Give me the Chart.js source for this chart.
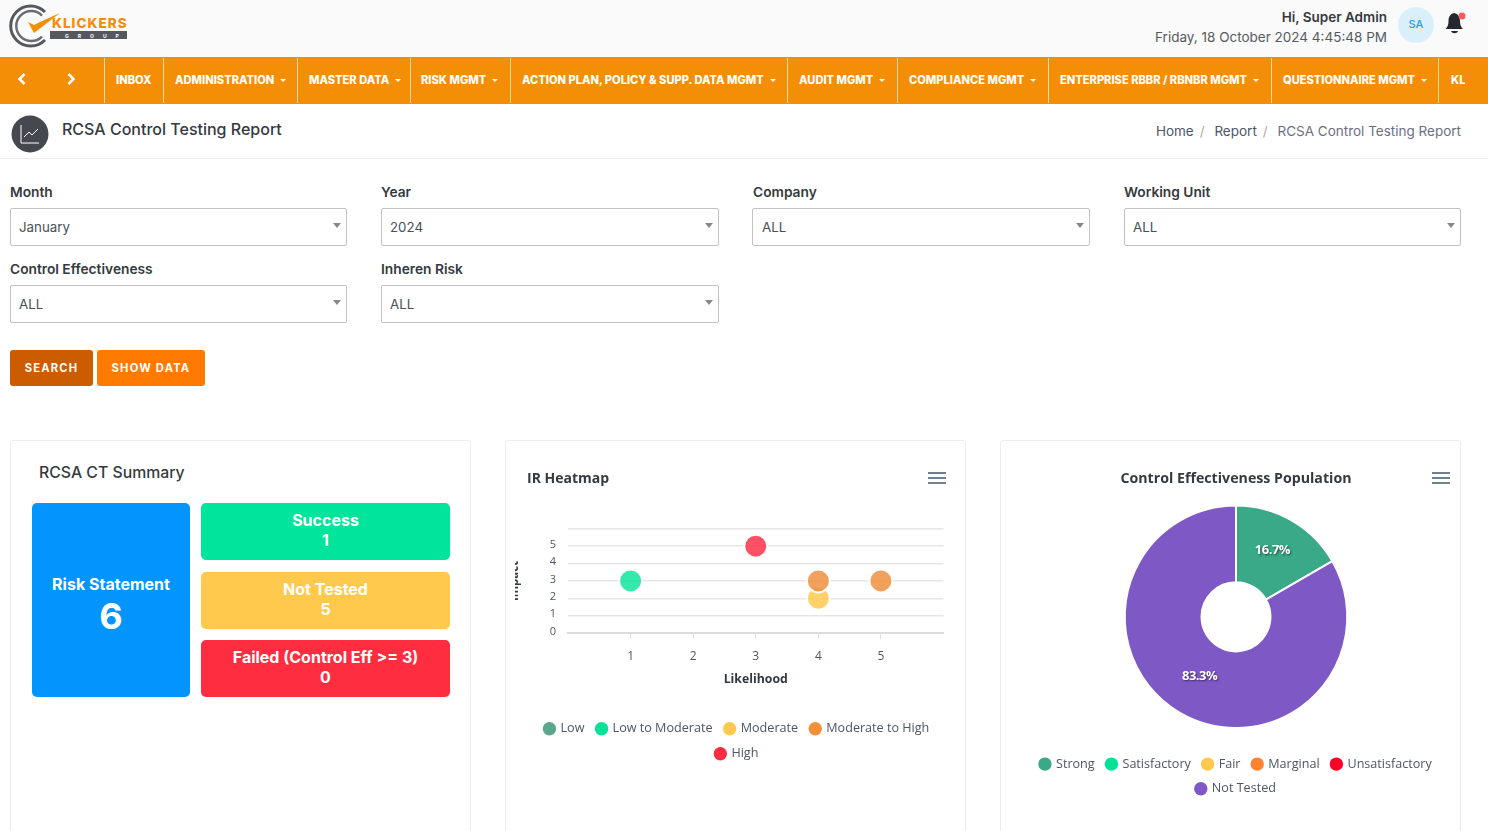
<!DOCTYPE html>
<html>
<head>
<meta charset="utf-8">
<title>RCSA Control Testing Report</title>
<script src="https://cdn.jsdelivr.net/npm/chart.js@4"></script>
<style>
html, body { margin: 0; padding: 0; width: 1488px; height: 831px; overflow: hidden; background: #fff; font-family: Inter, sans-serif; color: #343a40; }
.abs { position: absolute; white-space: nowrap; }
.topbar { position: absolute; left: 0; top: 0; width: 1488px; height: 57px; background: #fafafa; }
.nav { position: absolute; left: 0; top: 57px; width: 1488px; height: 47px; background: #f48e07; overflow: hidden; }
.nav .sep { position: absolute; top: 1px; width: 1px; height: 45px; background: #fbd9a6; }
.nav .item { position: absolute; top: 16px; font-size: 11.1px; line-height: 14px; font-weight: 800; color: #fff; white-space: nowrap; }
.nav .caret { display: inline-block; width: 0; height: 0; margin-left: 6px; vertical-align: 2px; border-left: 3px solid transparent; border-right: 3px solid transparent; border-top: 3px solid #fff; }
.crumbbar { position: absolute; left: 0; top: 104px; width: 1488px; height: 54px; border-bottom: 1px solid #ebedf2; }
.field-label { font-size: 13.75px; font-weight: 600; line-height: 18px; color: #343a40; }
.select { position: absolute; width: 335px; height: 36px; border: 1px solid #bfc3c7; border-radius: 2px; font-size: 13.3px; line-height: 36px; color: #495057; text-indent: 8px; }
.select::after { content: ''; position: absolute; right: 5px; top: 14px; border-left: 4px solid transparent; border-right: 4px solid transparent; border-top: 5px solid #888; }
.btn { position: absolute; top: 350px; height: 36px; line-height: 36px; border-radius: 3px; color: #fff; font-size: 11.2px; font-weight: 700; letter-spacing: 1.2px; text-align: center; }
.card { position: absolute; top: 440px; width: 459px; height: 420px; border: 1px solid #ebedf2; border-radius: 3px; background: #fff; }
.tile { position: absolute; border-radius: 5px; color: #fff; font-weight: 700; font-size: 16px; line-height: 20px; text-align: center; }
.menu { position: absolute; width: 18px; height: 12px; border-top: 2px solid #6e8192; border-bottom: 2px solid #6e8192; box-sizing: border-box; }
.menu::after { content: ''; position: absolute; left: 0; right: 0; top: 3px; height: 2px; background: #6e8192; }
canvas { position: absolute; display: block; }
</style>
</head>
<body>

<div class="topbar">
  <svg class="abs" style="left:9px;top:3px" width="122" height="48" viewBox="0 0 122 48">
    <path d="M36 9 A20 20 0 1 0 36 37" fill="none" stroke="#55585e" stroke-width="3"/>
    <path d="M33 12.500 A15 15 0 1 0 33 33.500" fill="none" stroke="#6a6d72" stroke-width="2.500"/>
    <path d="M19 19 L25 30 L51 10 L31 19 L25 22 Z" fill="#f48e07"/>
    <rect x="41" y="28" width="77" height="8" fill="#55585e"/>
    <text x="43" y="24.500" font-family="Inter" font-size="13.500" font-weight="800" letter-spacing="1" fill="#f48e07">KLICKERS</text>
    <text x="56" y="34.500" font-family="Inter" font-size="5" font-weight="700" letter-spacing="9" fill="#fff">GROUP</text>
  </svg>
  <div class="abs" style="right:101px;top:8px;font-size:13.5px;font-weight:600;line-height:18px;color:#343a40">Hi, Super Admin</div>
  <div class="abs" style="right:101px;top:28px;font-size:13.5px;line-height:18px;color:#565a5f">Friday, 18 October 2024 4:45:48 PM</div>
  <div class="abs" style="left:1398px;top:7px;width:36px;height:36px;border-radius:50%;background:#d9f0fb;color:#1e9ff2;font-size:11px;font-weight:500;line-height:34px;text-align:center">SA</div>
  <svg class="abs" style="left:1444px;top:11px" width="22" height="24" viewBox="0 0 22 24">
    <path d="M10 2 C6 3 4.500 6 4.500 10 C4.500 14 3.500 16 1.500 18 L19 18 C17 16 16 14 16 10 C16 6 14.500 3 10 2 Z" fill="#24282e"/>
    <path d="M7 20 L14 20 C13 23 8 23 7 20 Z" fill="#24282e"/>
    <circle cx="18" cy="5" r="3.500" fill="#ff5b5c"/>
  </svg>
</div>

<div class="nav">
  <svg class="abs" style="left:17px;top:15px" width="10" height="14" viewBox="0 0 10 14"><path d="M7.500 2 L2.500 7 L7.500 12" fill="none" stroke="#fff" stroke-width="2.500"/></svg>
  <svg class="abs" style="left:66px;top:15px" width="10" height="14" viewBox="0 0 10 14"><path d="M2.500 2 L7.500 7 L2.500 12" fill="none" stroke="#fff" stroke-width="2.500"/></svg>
  <div class="sep" style="left:104px"></div><div class="item" style="left:116px">INBOX</div>
  <div class="sep" style="left:163px"></div><div class="item" style="left:175px">ADMINISTRATION<span class="caret"></span></div>
  <div class="sep" style="left:297px"></div><div class="item" style="left:309px">MASTER DATA<span class="caret"></span></div>
  <div class="sep" style="left:410px"></div><div class="item" style="left:421px">RISK MGMT<span class="caret"></span></div>
  <div class="sep" style="left:510px"></div><div class="item" style="left:522px">ACTION PLAN, POLICY &amp; SUPP. DATA MGMT<span class="caret"></span></div>
  <div class="sep" style="left:787px"></div><div class="item" style="left:799px">AUDIT MGMT<span class="caret"></span></div>
  <div class="sep" style="left:897px"></div><div class="item" style="left:909px">COMPLIANCE MGMT<span class="caret"></span></div>
  <div class="sep" style="left:1048px"></div><div class="item" style="left:1060px">ENTERPRISE RBBR / RBNBR MGMT<span class="caret"></span></div>
  <div class="sep" style="left:1271px"></div><div class="item" style="left:1283px">QUESTIONNAIRE MGMT<span class="caret"></span></div>
  <div class="sep" style="left:1438px"></div><div class="item" style="left:1451px;width:14px;overflow:hidden">KLICKERS</div>
</div>

<div class="crumbbar">
  <svg class="abs" style="left:11px;top:11px" width="38" height="38" viewBox="0 0 38 38">
    <circle cx="19" cy="19" r="18.500" fill="#45484f"/>
    <path d="M10 10 L10 28 L28 28 M13 22 L18 17 L21 20 L27 14" fill="none" stroke="#fff" stroke-width="1"/>
  </svg>
  <div class="abs" style="left:62px;top:15px;font-size:16px;font-weight:500;line-height:20px;color:#343a40">RCSA Control Testing Report</div>
  <div class="abs" style="right:27px;top:18px;font-size:13.5px;line-height:18px;color:#6b6f82"><span style="color:#4e5566">Home</span><span style="color:#aaa;margin:0 6px">/</span> <span style="color:#4e5566">Report</span><span style="color:#aaa;margin:0 6px">/</span> RCSA Control Testing Report</div>
</div>

<div class="abs field-label" style="left:10px;top:183px">Month</div>
<div class="select" style="left:10px;top:208px">January</div>
<div class="abs field-label" style="left:381px;top:183px">Year</div>
<div class="select" style="left:381px;top:208px;width:336px">2024</div>
<div class="abs field-label" style="left:753px;top:183px">Company</div>
<div class="select" style="left:752px;top:208px;width:336px;text-indent:9px">ALL</div>
<div class="abs field-label" style="left:1124px;top:183px">Working Unit</div>
<div class="select" style="left:1124px;top:208px">ALL</div>
<div class="abs field-label" style="left:10px;top:260px">Control Effectiveness</div>
<div class="select" style="left:10px;top:285px">ALL</div>
<div class="abs field-label" style="left:381px;top:260px">Inheren Risk</div>
<div class="select" style="left:381px;top:285px;width:336px">ALL</div>
<div class="btn" style="left:10px;width:83px;background:#cc5c00">SEARCH</div>
<div class="btn" style="left:97px;width:108px;background:#ff7a00">SHOW DATA</div>

<div class="card" style="left:10px"></div>
<div class="card" style="left:505px"></div>
<div class="card" style="left:1000px"></div>

<div class="abs" style="left:39px;top:463px;font-size:15.800px;font-weight:500;line-height:20px;color:#343a40">RCSA CT Summary</div>
<div class="tile" style="left:32px;top:503px;width:158px;height:194px;background:#0394fd">
  <div style="margin-top:71px">Risk Statement</div>
  <div style="font-size:36px;line-height:44px">6</div>
</div>
<div class="tile" style="left:201px;top:503px;width:249px;height:57px;background:#00e59b;padding-top:7px;box-sizing:border-box">Success<br>1</div>
<div class="tile" style="left:201px;top:572px;width:249px;height:57px;background:#ffc94d;padding-top:7px;box-sizing:border-box">Not Tested<br>5</div>
<div class="tile" style="left:201px;top:640px;width:249px;height:57px;background:#ff2d3f;padding-top:7px;box-sizing:border-box">Failed (Control Eff &gt;= 3)<br>0</div>

<div class="menu" style="left:928px;top:472px"></div>
<div class="menu" style="left:1432px;top:472px"></div>

<canvas id="heatmapChart" width="442" height="308" style="left:515px;top:462px"></canvas>
<canvas id="populationChart" width="450" height="343" style="left:1011px;top:462px"></canvas>

<script>
const CHART_FONT = '"Open Sans", sans-serif';

// IR heatmap values as [likelihood, impact]
const heatmapSeries = ['Low', 'Low to Moderate', 'Moderate', 'Moderate to High', 'High'];
const lowPoints = [];
const lowToModeratePoints = [{ x: 1, y: 3 }];
const moderatePoints = [{ x: 4, y: 2 }];
const moderateToHighPoints = [{ x: 4, y: 3 }, { x: 5, y: 3 }];
const highPoints = [{ x: 3, y: 5 }];
const heatmapColors = ['#5ca68d', '#00e396', '#ffc94d', '#f2903a', '#ff2d3f'];
const heatmapPointColors = ['rgba(92,166,141,.85)', 'rgba(0,227,150,.8)', 'rgba(255,201,77,.85)', 'rgba(238,144,62,.85)', 'rgba(255,38,62,.8)'];
const likelihoodTicks = [1, 2, 3, 4, 5];

// control effectiveness population
const populationLabels = ['Strong', 'Satisfactory', 'Fair', 'Marginal', 'Unsatisfactory', 'Not Tested'];
const populationValues = [1, 0, 0, 0, 0, 5];
const populationColors = ['#39a987', '#00e396', '#ffc94d', '#ff8431', '#ff0028', '#7e59c5'];

const legendLabels = (names, colors) => ({
    usePointStyle: true,
    boxWidth: 9.5,
    boxHeight: 9.5,
    color: '#4e5566',
    font: { family: CHART_FONT, size: 12.6 },
    generateLabels: () => names.map((text, i) => ({
        text: text,
        fillStyle: colors[i],
        strokeStyle: colors[i],
        lineWidth: 0,
        pointStyle: 'circle',
        fontColor: '#4e5566',
        hidden: false,
        index: i,
        datasetIndex: i
    }))
});

const heatmapChartInstance = new Chart(document.getElementById('heatmapChart').getContext('2d'), {
    type: 'scatter',
    data: {
        datasets: [lowPoints, lowToModeratePoints, moderatePoints, moderateToHighPoints, highPoints].map((points, i) => ({
            label: heatmapSeries[i],
            data: points,
            // orange sits on top of yellow in the original
            order: heatmapSeries.length - i,
            pointRadius: 11.5,
            pointBorderWidth: 2,
            pointBorderColor: '#fff',
            pointBackgroundColor: heatmapPointColors[i]
        }))
    },
    options: {
        responsive: false,
        animation: false,
        layout: { padding: { left: 12, right: 10 } },
        plugins: {
            tooltip: { enabled: false },
            title: {
                display: true,
                text: 'IR Heatmap',
                align: 'start',
                color: '#343a40',
                font: { family: CHART_FONT, size: 14, weight: '700' },
                padding: { top: 9, bottom: 41 }
            },
            legend: {
                position: 'bottom',
                labels: { ...legendLabels(heatmapSeries, heatmapColors), padding: 12.4 }
            }
        },
        scales: {
            x: {
                type: 'linear',
                min: 0,
                max: 6,
                afterBuildTicks: scale => { scale.ticks = likelihoodTicks.map(v => ({ value: v })); },
                afterFit: scale => { scale.height = 77; },
                grid: { drawOnChartArea: false, tickLength: 6, color: '#e0e0e0' },
                border: { color: '#dcdcdc', width: 2 },
                ticks: { color: '#4e5566', font: { family: CHART_FONT, size: 12 }, padding: 10, autoSkip: false, maxRotation: 0 },
                title: {
                    display: true,
                    text: 'Likelihood',
                    color: '#343a40',
                    font: { family: CHART_FONT, size: 12.3, weight: '700' },
                    padding: { top: 0, bottom: 23 }
                }
            },
            y: {
                min: 0,
                max: 6,
                afterFit: scale => { scale.width = 41; },
                grid: { drawTicks: false, color: '#e6e6e6', lineWidth: 1.5 },
                border: { display: false },
                ticks: {
                    stepSize: 1,
                    color: '#4e5566',
                    padding: 12,
                    labelOffset: -1.5,
                    font: { family: CHART_FONT, size: 11 },
                    callback: value => (value > 5 ? '' : value)
                },
                title: {
                    display: true,
                    text: 'Impact',
                    color: '#343a40',
                    font: { family: CHART_FONT, size: 11.5, weight: '700' },
                    // pushed past the canvas edge, the original clips this label too
                    padding: { top: -19, bottom: -19 }
                }
            }
        }
    }
});

// draws the percentage on each slice
const sliceLabelPlugin = {
    id: 'sliceLabels',
    afterDatasetsDraw(chart) {
        const ctx = chart.ctx;
        const total = populationValues.reduce((a, b) => a + b, 0);
        chart.getDatasetMeta(0).data.forEach((arc, i) => {
            if (!populationValues[i]) return;
            const pos = arc.getCenterPoint();
            ctx.save();
            ctx.font = '700 13px ' + CHART_FONT;
            ctx.letterSpacing = '-0.5px';
            ctx.textAlign = 'center';
            ctx.textBaseline = 'middle';
            ctx.fillStyle = '#fff';
            ctx.shadowColor = 'rgba(0,0,0,.55)';
            ctx.shadowBlur = 2;
            ctx.shadowOffsetX = 1;
            ctx.shadowOffsetY = 1;
            ctx.fillText((populationValues[i] / total * 100).toFixed(1) + '%', pos.x, pos.y - 3.5);
            ctx.restore();
        });
    }
};

const populationChartInstance = new Chart(document.getElementById('populationChart').getContext('2d'), {
    type: 'doughnut',
    data: {
        labels: populationLabels,
        datasets: [{
            data: populationValues,
            backgroundColor: populationColors,
            borderColor: '#fff',
            borderWidth: 2
        }]
    },
    options: {
        responsive: false,
        animation: false,
        cutout: '31%',
        plugins: {
            tooltip: { enabled: false },
            title: {
                display: true,
                text: 'Control Effectiveness Population',
                color: '#343a40',
                font: { family: CHART_FONT, size: 14.2, weight: '700' },
                padding: { top: 8, bottom: 17.5 }
            },
            legend: {
                position: 'bottom',
                // empty legend title only adds the gap under the pie
                title: { display: true, text: '', font: { size: 1 }, padding: { top: 15.5, bottom: 0 } },
                labels: { ...legendLabels(populationLabels, populationColors), padding: 12 }
            }
        }
    },
    plugins: [sliceLabelPlugin]
});
</script>
</body>
</html>
